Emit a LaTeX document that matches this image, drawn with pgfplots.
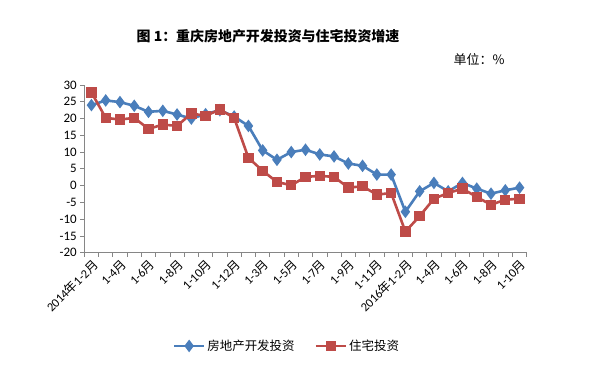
\documentclass[border=0pt]{standalone}
\usepackage{fontspec}
\setmainfont{Carlito}
\newfontfamily\cjk{Noto Sans CJK SC}
\usepackage{pgfplots}
\pgfplotsset{compat=1.18}
\definecolor{cblue}{RGB}{74,126,187}
\definecolor{cred}{RGB}{190,75,72}
\definecolor{axgray}{RGB}{134,134,134}
\newcommand{\yue}{{\cjk 月}}
\newcommand{\nian}{{\cjk 年}}
\pgfplotstableread{
x dev res
0 24.0 27.8
1 25.4 20.2
2 24.9 19.7
3 23.8 20.2
4 22.0 16.9
5 22.3 18.2
6 21.2 17.8
7 20.0 21.5
8 21.3 20.8
9 22.5 22.7
10 20.6 20.2
11 17.8 8.3
12 10.5 4.4
13 7.7 1.1
14 10.0 0.1
15 10.7 2.6
16 9.3 2.9
17 8.7 2.6
18 6.6 -0.6
19 5.9 -0.2
20 3.3 -2.7
21 3.3 -2.2
22 -7.8 -13.7
23 -1.7 -9.1
24 0.8 -3.9
25 -1.7 -2.2
26 0.8 -0.9
27 -0.9 -3.4
28 -2.4 -5.7
29 -1.4 -4.2
30 -0.6 -3.9
}\datatable
\begin{document}
\begin{tikzpicture}
\path[use as bounding box] (0bp,0bp) rectangle (590bp,367bp);
\begin{axis}[
  at={(84.3bp,114.3bp)}, anchor=south west,
  width=442.4bp, height=167.7bp, scale only axis,
  xmin=-0.5, xmax=30.5, ymin=-20, ymax=30,
  axis x line*=bottom, axis y line*=left,
  axis line style={axgray, line width=0.8bp, -},
  xtick={0,2,...,30},
  xticklabels={2014\nian1-2\yue, 1-4\yue, 1-6\yue, 1-8\yue, 1-10\yue, 1-12\yue, 1-3\yue, 1-5\yue, 1-7\yue, 1-9\yue, 1-11\yue, 2016\nian1-2\yue, 1-4\yue, 1-6\yue, 1-8\yue, 1-10\yue},
  major x tick style={draw=none},
  minor xtick={-0.5,0.5,...,30.5},
  minor x tick style={axgray, line width=0.8bp},
  ytick={-20,-15,...,30},
  y tick style={axgray, line width=0.8bp},
  tick align=outside,
  major tick length=4bp, minor tick length=4bp,
  xticklabel style={rotate=45, anchor=north east, inner sep=1bp, font=\fontsize{12.5}{13}\selectfont},
  yticklabel style={font=\fontsize{13}{13}\selectfont},
  /pgf/number format/assume math mode=true,
  legend style={draw=none, at={(0.458,-0.556)}, anchor=center, legend columns=2,
    font=\cjk\fontsize{12.5}{13}\selectfont,
    /tikz/every even column/.append style={column sep=18bp}},
  legend image code/.code={\draw[mark repeat=2,mark phase=2,#1] plot coordinates {(0bp,0bp) (15bp,0bp) (30bp,0bp)};},
]
\addplot[cblue, line width=2.6bp, mark=diamond*, mark size=4.2bp, mark options={solid}] table[x=x,y=dev] {\datatable};
\addlegendentry{房地产开发投资}
\addplot[cred, line width=2.6bp, mark=square*, mark size=3.9bp, mark options={solid}] table[x=x,y=res] {\datatable};
\addlegendentry{住宅投资}
\end{axis}
\node[font=\cjk\bfseries\fontsize{14}{14}\selectfont] at (268bp,331bp) {图 1：重庆房地产开发投资与住宅投资增速};
\node[anchor=east, font=\cjk\fontsize{13}{13}\selectfont] at (508bp,307bp) {单位：\%};
\end{tikzpicture}
\end{document}
